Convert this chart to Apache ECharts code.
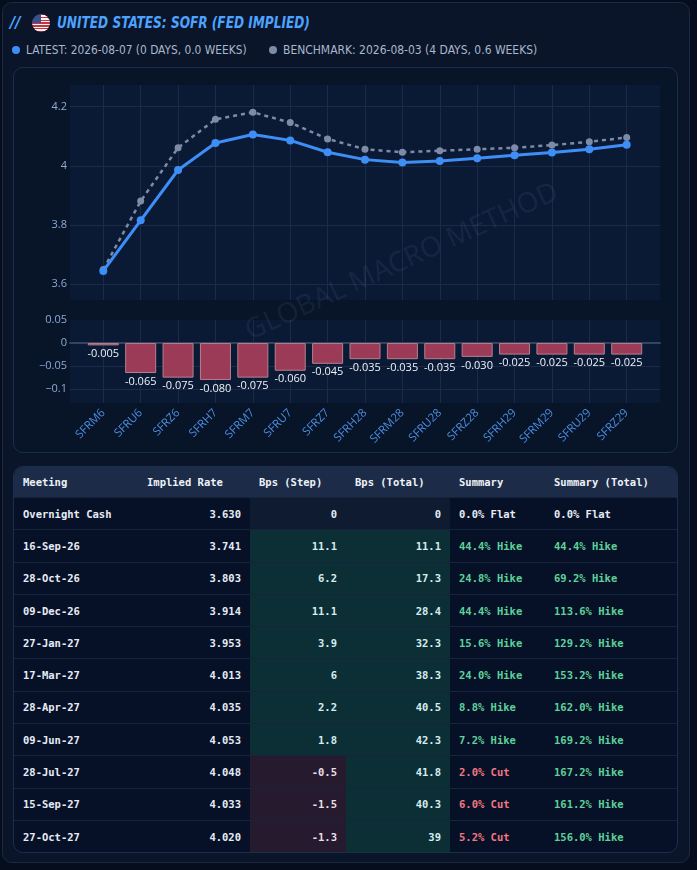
<!DOCTYPE html>
<html>
<head>
<meta charset="utf-8">
<script src="https://cdn.jsdelivr.net/npm/echarts@6/dist/echarts.min.js"></script>
<style>
  html, body { margin: 0; padding: 0; width: 697px; height: 870px; overflow: hidden; background: #060e1e; }
  #panel { position: absolute; left: 2px; top: 2px; width: 686px; height: 859px; background: #0a1529; border: 1px solid #1a2a44; border-radius: 10px; }
  .hd { position: absolute; white-space: nowrap; font-family: "Liberation Sans Narrow", "DejaVu Sans Condensed", sans-serif; transform-origin: 0 50%; }
  .ttl { top: 12px; height: 22px; line-height: 22px; color: #4da3ff; font-weight: bold; font-style: italic; font-size: 16px; }
  .flag { position: absolute; left: 32px; top: 14px; width: 18px; height: 18px; border-radius: 50%;
    background: linear-gradient(#3b4f8f, #3b4f8f) 0 0 / 9px 9px no-repeat, repeating-linear-gradient(#c8313e 0 1.4px, #f4f4f4 1.4px 2.8px); }
  .lg { top: 42px; height: 16px; line-height: 16px; color: #a9b7cc; font-size: 11.5px; }
  .dot { position: absolute; top: 46px; width: 8px; height: 8px; border-radius: 50%; }
  #card { position: absolute; left: 13px; top: 67px; width: 663px; height: 384px; background: #081428; border: 1px solid #1c2e4d; border-radius: 10px; }
  #chart { position: absolute; left: 0; top: 0; width: 697px; height: 460px; }
  #tablewrap { position: absolute; left: 13px; top: 466px; width: 663px; border: 1px solid #1c2e4d; border-radius: 10px; overflow: hidden; background: #061127; }
  table { border-collapse: collapse; width: 100%; font-family: "DejaVu Sans Mono", "Liberation Mono", monospace; font-weight: bold; font-size: 10.5px; color: #e6ecf5; }
  th { background: #1c2c48; height: 30px; text-align: left; padding: 0 9px; font-weight: bold; color: #eef2f8; }
  td { height: 31.3px; padding: 0 9px; border-top: 1px solid #15233b; white-space: nowrap; }
  td.num { text-align: right; }
  .pos { background: #0b2f35; color: #d6ecef; }
  .neg { background: #261a2e; color: #eadfe6; }
  .zero { background: #0f1b30; }
  .hike { color: #5ed29a; }
  .cut { color: #f27782; }
</style>
</head>
<body>
<div id="panel"></div>
<div class="hd ttl" style="left:10px">//</div>
<div class="flag"></div>
<div class="hd ttl" id="ttlText" style="left:57px">UNITED STATES: SOFR (FED IMPLIED)</div>
<div class="dot" style="left:12px;background:#3d8ef7"></div>
<div class="hd lg" id="lg1" style="left:26px">LATEST: 2026-08-07 (0 DAYS, 0.0 WEEKS)</div>
<div class="dot" style="left:269px;background:#7d8ba6"></div>
<div class="hd lg" id="lg2" style="left:283px">BENCHMARK: 2026-08-03 (4 DAYS, 0.6 WEEKS)</div>
<div id="card"></div>
<div id="chart"></div>
<div id="tablewrap"><table id="tbl"></table></div>
<script>
// contracts on the curve
var contracts = ['SFRM6', 'SFRU6', 'SFRZ6', 'SFRH7', 'SFRM7', 'SFRU7', 'SFRZ7', 'SFRH28',
  'SFRM28', 'SFRU28', 'SFRZ28', 'SFRH29', 'SFRM29', 'SFRU29', 'SFRZ29'];
var latest = [3.645, 3.816, 3.986, 4.077, 4.106, 4.086, 4.046, 4.021, 4.011, 4.016, 4.026, 4.036, 4.045, 4.056, 4.071];
var benchmark = [3.650, 3.881, 4.061, 4.157, 4.181, 4.146, 4.091, 4.056, 4.046, 4.051, 4.056, 4.061, 4.070, 4.081, 4.096];
var change = [-0.005, -0.065, -0.075, -0.080, -0.075, -0.060, -0.045, -0.035, -0.035, -0.035, -0.030, -0.025, -0.025, -0.025, -0.025];

// meeting table
var tableHeaders = ['Meeting', 'Implied Rate', 'Bps (Step)', 'Bps (Total)', 'Summary', 'Summary (Total)'];
var meetings = ['Overnight Cash', '16-Sep-26', '28-Oct-26', '09-Dec-26', '27-Jan-27', '17-Mar-27',
  '28-Apr-27', '09-Jun-27', '28-Jul-27', '15-Sep-27', '27-Oct-27'];
var impliedRate = [3.630, 3.741, 3.803, 3.914, 3.953, 4.013, 4.035, 4.053, 4.048, 4.033, 4.020];
var bpsStep = [0, 11.1, 6.2, 11.1, 3.9, 6, 2.2, 1.8, -0.5, -1.5, -1.3];
var bpsTotal = [0, 11.1, 17.3, 28.4, 32.3, 38.3, 40.5, 42.3, 41.8, 40.3, 39];
var summary = ['0.0% Flat', '44.4% Hike', '24.8% Hike', '44.4% Hike', '15.6% Hike', '24.0% Hike',
  '8.8% Hike', '7.2% Hike', '2.0% Cut', '6.0% Cut', '5.2% Cut'];
var summaryTotal = ['0.0% Flat', '44.4% Hike', '69.2% Hike', '113.6% Hike', '129.2% Hike', '153.2% Hike',
  '162.0% Hike', '169.2% Hike', '167.2% Hike', '161.2% Hike', '156.0% Hike'];

var gridColor = '#1a2b47';
var plotBg = '#0b1a34';

// squeeze header text into the widths of the condensed original font
function fitWidth(id, w) {
  var el = document.getElementById(id);
  el.style.transform = 'scaleX(' + (w / el.offsetWidth) + ')';
}
fitWidth('ttlText', 253);
fitWidth('lg1', 221);
fitWidth('lg2', 254);

function fmtTick(v) {
  var s = String(Number(v.toFixed(3)));
  return s.charAt(0) === '-' ? '\u2212' + s.slice(1) : s;
}

var chart = echarts.init(document.getElementById('chart'));
chart.setOption({
  animation: false,
  backgroundColor: 'transparent',
  graphic: [{
    type: 'text', z: 1, silent: true,
    x: 402, y: 262, rotation: 0.43,
    style: { text: 'GLOBAL MACRO METHOD', font: '28px "Noto Sans"', fill: 'rgba(95,125,170,0.13)', align: 'center', verticalAlign: 'middle' }
  }],
  grid: [
    { left: 70, top: 85, width: 590, height: 215, show: true, backgroundColor: plotBg, borderWidth: 0 },
    { left: 103.3, top: 85, width: 523.4, height: 215 },
    { left: 70, top: 320, width: 590, height: 83, show: true, backgroundColor: plotBg, borderWidth: 0 },
    { left: 103.3, top: 320, width: 523.4, height: 83 }
  ],
  xAxis: [
    { type: 'value', gridIndex: 0, min: 0, max: 1, show: false },
    { type: 'category', gridIndex: 1, data: contracts, boundaryGap: false,
      axisLine: { show: false }, axisTick: { show: false }, axisLabel: { show: false },
      splitLine: { show: true, interval: 0, lineStyle: { color: gridColor } } },
    { type: 'value', gridIndex: 2, min: 0, max: 1,
      axisLine: { show: true, onZero: true, lineStyle: { color: '#34445f', width: 2 } },
      axisTick: { show: false }, axisLabel: { show: false }, splitLine: { show: false } },
    { type: 'category', gridIndex: 3, data: contracts, boundaryGap: false,
      axisLine: { show: false }, axisTick: { show: false },
      axisLabel: { interval: 0, rotate: 45, margin: 8, color: '#4a8de0', fontSize: 11.5, fontFamily: 'Open Sans' },
      splitLine: { show: true, interval: 0, lineStyle: { color: gridColor } } }
  ],
  yAxis: [
    { type: 'value', gridIndex: 0, min: 3.547, max: 4.273, splitNumber: 4,
      axisLine: { show: false }, axisTick: { show: false },
      axisLabel: { color: '#8aaad8', fontSize: 11, fontFamily: 'Open Sans', margin: 3, showMinLabel: false, showMaxLabel: false, formatter: fmtTick },
      splitLine: { show: true, showMinLine: false, showMaxLine: false, lineStyle: { color: gridColor } } },
    { type: 'value', gridIndex: 1, min: 3.547, max: 4.273, show: false, splitLine: { show: false } },
    { type: 'value', gridIndex: 2, min: -0.13, max: 0.05, splitNumber: 4,
      axisLine: { show: false }, axisTick: { show: false },
      axisLabel: { color: '#8aaad8', fontSize: 11, fontFamily: 'Open Sans', margin: 3, showMinLabel: false, formatter: fmtTick },
      splitLine: { show: true, showMinLine: false, showMaxLine: false, lineStyle: { color: gridColor } } },
    { type: 'value', gridIndex: 3, min: -0.13, max: 0.05, show: false, splitLine: { show: false } }
  ],
  series: [
    { name: 'Benchmark', type: 'line', xAxisIndex: 1, yAxisIndex: 1, data: benchmark, z: 3,
      symbol: 'circle', symbolSize: 7, itemStyle: { color: '#7d8ba6' },
      lineStyle: { color: '#7d8ba6', width: 2.5, type: [4, 4] } },
    { name: 'Latest', type: 'line', xAxisIndex: 1, yAxisIndex: 1, data: latest, z: 4,
      symbol: 'circle', symbolSize: 8, itemStyle: { color: '#3d8ef7' },
      lineStyle: { color: '#3d8ef7', width: 3 } },
    { name: 'Change', type: 'bar', xAxisIndex: 3, yAxisIndex: 3, data: change, barWidth: 31, clip: false, z: 3,
      itemStyle: { color: '#9b3b57', borderColor: '#b3808f', borderWidth: 1 },
      label: { show: true, position: 'bottom', distance: 3, color: '#eef2f8', fontSize: 11, fontFamily: 'Open Sans',
        formatter: function (p) { return p.value.toFixed(3); } } }
  ]
});

// table rows
var tbl = document.getElementById('tbl');
var html = '<tr>' + tableHeaders.map(function (h) { return '<th>' + h + '</th>'; }).join('') + '</tr>';
function bg(v) { return v > 0 ? 'pos' : (v < 0 ? 'neg' : 'zero'); }
function tone(s) { return s.indexOf('Hike') >= 0 ? 'hike' : (s.indexOf('Cut') >= 0 ? 'cut' : ''); }
for (var i = 0; i < meetings.length; i++) {
  html += '<tr>' +
    '<td>' + meetings[i] + '</td>' +
    '<td class="num">' + impliedRate[i].toFixed(3) + '</td>' +
    '<td class="num ' + bg(bpsStep[i]) + '">' + bpsStep[i] + '</td>' +
    '<td class="num ' + bg(bpsTotal[i]) + '">' + bpsTotal[i] + '</td>' +
    '<td class="' + tone(summary[i]) + '">' + summary[i] + '</td>' +
    '<td class="' + tone(summaryTotal[i]) + '">' + summaryTotal[i] + '</td>' +
    '</tr>';
}
tbl.innerHTML = html;
var widths = [124, 112, 96, 104, 95, 132];
var ths = tbl.querySelectorAll('th');
for (var j = 0; j < ths.length; j++) { ths[j].style.width = (widths[j] - 18) + 'px'; }
</script>
</body>
</html>
